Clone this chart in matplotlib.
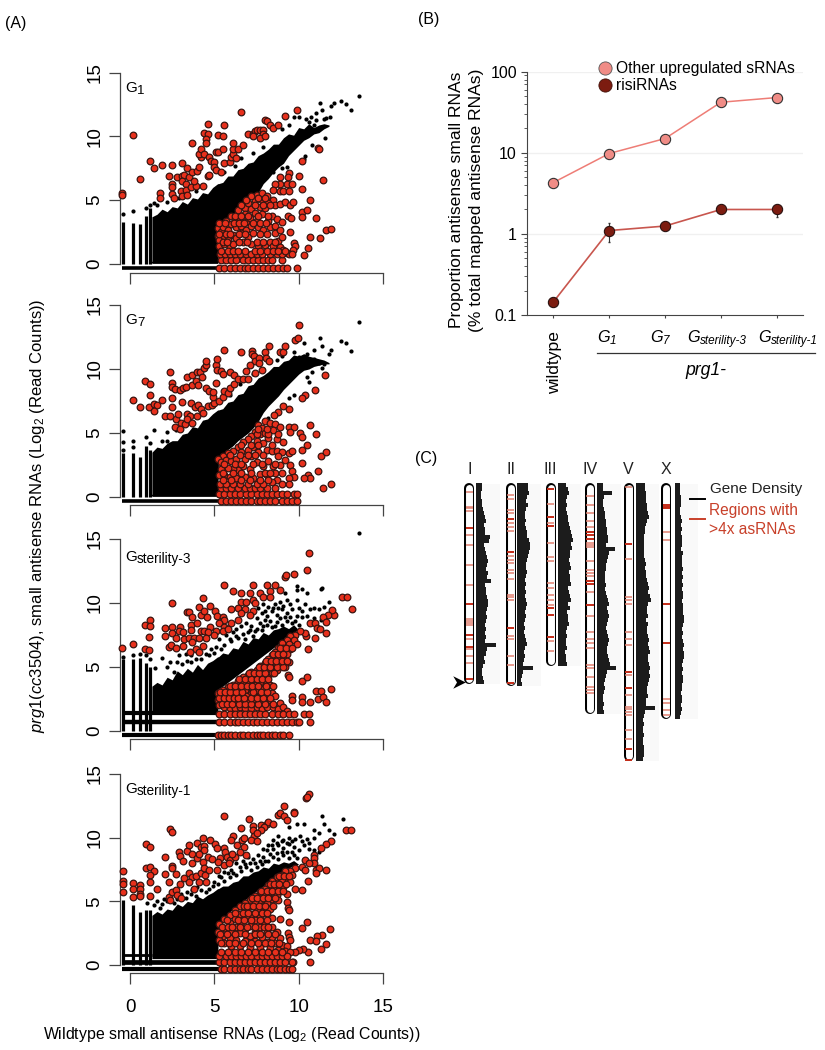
import matplotlib
matplotlib.use("Agg")
import matplotlib.pyplot as plt
from matplotlib.patches import Rectangle

plt.rcParams['font.family'] = ['Liberation Sans', 'DejaVu Sans']
plt.rcParams['mathtext.fontset'] = 'custom'
plt.rcParams['mathtext.rm'] = 'Liberation Sans'
plt.rcParams['mathtext.it'] = 'Liberation Sans:italic'

W, H = 825, 1050

# ---------- panel A: data ----------
panel_names = ["G1", "G7", "Gs3", "Gs1"]
x_ticks = [0, 5, 10, 15]
y_ticks = [0, 5, 10, 15]

# discrete low-count columns (wildtype value, top of dense stack)
g1_col_x = [-0.43, 0.2, 0.6, 0.93, 1.2]
g1_col_top = [3.3, 3.2, 3.1, 3.8, 4.4]
g7_col_x = [-0.43, 0.2, 0.6, 0.93, 1.2]
g7_col_top = [3.4, 3.4, 3.1, 4.0, 3.7]
gs3_col_x = [-0.43, 0.2, 0.6, 0.93, 1.2]
gs3_col_top = [5.6, 5.6, 5.7, 5.3, 5.0]
gs1_col_x = [-0.43, 0.2, 0.6, 0.93, 1.2]
gs1_col_top = [5.1, 4.7, 4.2, 4.3, 4.3]

# envelope of the solid part of each black cloud
cloud_x = [1.3, 1.6, 1.9, 2.2, 2.5, 2.8, 3.1, 3.4, 3.7, 4.0, 4.3, 4.6, 4.9, 5.2, 5.25, 5.5, 5.8, 6.1, 6.4, 6.7, 7.0, 7.3, 7.6, 7.9, 8.2, 8.5, 8.8, 9.1, 9.4, 9.7, 10.0, 10.3, 10.6, 10.9, 11.2, 11.5, 11.8]
g1_cloud_hi = [3.7, 3.9, 4.3, 4.1, 4.5, 4.4, 4.9, 4.7, 5.2, 5.1, 5.6, 5.5, 6.0, 6.3, 6.3, 6.4, 6.9, 6.9, 7.4, 7.5, 7.9, 8.0, 8.5, 8.7, 9.0, 9.4, 9.4, 9.9, 10.2, 10.1, 10.7, 10.6, 11.0, 10.7, 10.9, 11.0, 10.9]
g1_cloud_lo = [0.05, 0.05, 0.05, 0.05, 0.05, 0.05, 0.05, 0.05, 0.05, 0.05, 0.05, 0.05, 0.05, 0.05, 3.0, 3.2, 3.7, 3.9, 4.3, 4.6, 4.9, 5.3, 5.6, 6.3, 6.7, 7.2, 7.6, 7.9, 8.5, 8.9, 9.3, 9.7, 9.9, 10.2, 10.3, 10.6, 10.8]
g7_cloud_hi = [3.5, 3.9, 3.8, 4.2, 4.4, 4.4, 4.9, 5.0, 5.5, 5.4, 6.0, 6.1, 6.5, 6.8, 6.8, 6.9, 7.4, 7.5, 8.0, 8.1, 8.7, 8.8, 9.3, 9.5, 9.8, 10.2, 10.2, 10.6, 10.7, 11.1, 11.0, 11.2, 11.0, 10.9, 10.8, 10.7, 10.5]
g7_cloud_lo = [0.05, 0.05, 0.05, 0.05, 0.05, 0.05, 0.05, 0.05, 0.05, 0.05, 0.05, 0.05, 0.05, 0.05, 3.0, 3.3, 3.7, 4.0, 4.4, 4.7, 5.0, 5.4, 5.9, 6.6, 7.1, 7.5, 7.9, 8.4, 8.8, 9.2, 9.6, 9.9, 10.0, 10.2, 10.3, 10.4, 10.4]
gs3_cloud_hi = [3.5, 3.8, 3.6, 4.2, 4.0, 4.7, 4.4, 4.9, 4.6, 5.2, 4.8, 5.3, 5.5, 5.8, 5.8, 6.1, 6.0, 6.5, 6.4, 7.0, 6.8, 7.3, 7.2, 7.7, 7.5, 7.9, 8.0, 8.2, 8.0, 8.3, 7.9, 7.8, 7.7, 7.6, 7.5, 7.4, 7.3]
gs3_cloud_lo = [1.55, 1.55, 1.55, 1.55, 1.55, 1.55, 1.55, 1.55, 1.55, 1.55, 1.55, 1.55, 1.55, 1.55, 3.3, 3.5, 3.8, 4.1, 4.4, 4.7, 5.0, 5.3, 5.6, 5.9, 6.2, 6.5, 6.8, 7.1, 7.4, 7.7, 7.9, 7.8, 7.7, 7.6, 7.5, 7.4, 7.3]
gs1_cloud_hi = [3.9, 4.2, 4.0, 4.4, 4.3, 4.8, 4.6, 5.0, 4.9, 5.4, 5.2, 5.5, 5.7, 6.0, 6.0, 6.2, 6.2, 6.5, 6.6, 7.0, 7.0, 7.3, 7.4, 7.7, 7.6, 8.0, 7.9, 8.1, 8.0, 8.2, 7.9, 7.8, 7.7, 7.6, 7.5, 7.4, 7.3]
gs1_cloud_lo = [0.5, 0.5, 0.5, 0.5, 0.5, 0.5, 0.5, 0.5, 0.5, 0.5, 0.5, 0.5, 0.5, 0.5, 3.2, 3.6, 4.0, 4.4, 4.7, 5.0, 5.3, 5.6, 5.9, 6.2, 6.5, 6.8, 7.1, 7.4, 7.6, 7.8, 7.9, 7.8, 7.7, 7.6, 7.5, 7.4, 7.3]

# horizontal runs of tied counts: (y, x start, x end, thickness)
g1_black_rows = [(-0.35, -0.5, 5.4, 2.6), (0.15, 1.2, 5.2, 1.0)]
g7_black_rows = [(-0.35, -0.5, 5.4, 2.6), (0.15, 1.2, 5.2, 1.0)]
gs3_black_rows = [(-0.3, -0.5, 5.4, 3.0), (0.7, -0.5, 5.4, 3.2), (1.4, -0.5, 5.4, 3.0)]
gs1_black_rows = [(-0.35, -0.5, 5.4, 3.0), (0.2, -0.5, 5.4, 3.4), (0.75, -0.5, 1.3, 2.0)]

g1_black = [(-0.43, 3.9), (0.2, 4.15), (0.93, 4.4), (1.2, 4.65), (1.4, 4.8), (1.6, 4.6), (2.2, 4.9), (2.9, 5.2), (3.9, 5.7),
            (13.6, 13.2), (13.1, 12.05), (12.8, 12.55), (12.5, 12.75), (12.1, 12.6), (11.9, 12.4), (11.25, 12.6), (11.4, 12.05),
            (11.05, 11.85), (10.75, 11.55), (10.45, 11.4), (10.0, 11.5), (9.7, 11.5), (11.65, 11.45), (11.85, 11.55), (11.55, 9.9),
            (11.0, 11.3), (10.9, 10.9), (11.5, 11.4), (10.6, 11.1), (9.4, 10.9), (9.0, 10.6), (7.9, 9.2), (7.3, 8.7), (6.6, 8.3),
            (6.2, 7.7), (5.6, 7.2), (8.5, 7.2), (9.0, 7.5), (9.3, 7.6), (10.4, 8.5), (10.3, 8.2), (10.8, 9.3)]
g7_black = [(-0.43, 5.15), (-0.43, 4.3), (-0.43, 3.7), (0.2, 4.4), (0.2, 3.9), (0.93, 4.7), (1.4, 5.2), (1.2, 4.2), (1.9, 4.4), (2.2, 5.1), (2.7, 5.2), (2.2, 4.4),
            (13.6, 13.7), (13.1, 11.4), (12.8, 12.0), (12.5, 12.2), (11.25, 12.4), (11.4, 11.8), (11.9, 11.5), (11.8, 11.2), (10.5, 11.2), (10.9, 11.5),
            (10.3, 12.0), (10.0, 10.9), (10.9, 10.8), (11.2, 10.5), (11.5, 10.4), (11.4, 10.1), (10.8, 9.8), (10.5, 9.4), (10.6, 9.0), (9.0, 11.0), (9.7, 11.3),
            (8.7, 10.7), (7.9, 10.0), (7.3, 9.6), (6.5, 8.8), (5.9, 8.0), (9.0, 7.1), (9.4, 7.7), (9.7, 8.0), (7.6, 5.8), (8.2, 6.2)]
gs3_black = [(13.6, 15.5), (-0.43, 5.8), (0.2, 5.9), (0.6, 6.0), (0.93, 5.9), (1.2, 5.6), (1.5, 4.9), (1.9, 5.7), (2.4, 5.4), (2.6, 4.6), (2.9, 5.9), (3.1, 5.2), (3.4, 5.5),
             (3.6, 5.9), (3.9, 5.6), (4.2, 5.6), (4.5, 6.0), (4.8, 6.4), (5.1, 6.6), (5.3, 7.2), (5.6, 6.7), (5.9, 7.2), (6.1, 7.7), (6.4, 7.3), (6.7, 7.6), (7.0, 7.7),
             (7.3, 7.4), (6.3, 8.0), (6.6, 8.2), (6.9, 8.4), (7.2, 8.2), (7.5, 8.0), (7.8, 7.9), (8.1, 8.3), (8.4, 8.1), (8.7, 8.5), (9.0, 8.3), (9.3, 8.6), (9.6, 8.4),
             (7.5, 8.8), (7.8, 9.2), (8.1, 9.0), (8.4, 9.4), (8.7, 9.1), (9.0, 9.5), (9.3, 9.2), (9.6, 9.5), (9.9, 9.0), (10.2, 8.9), (10.5, 9.0), (7.6, 9.6), (7.9, 9.9),
             (8.2, 9.7), (8.6, 9.9), (8.9, 10.1), (9.3, 10.2), (9.9, 10.2), (10.4, 9.9), (10.9, 9.6), (11.2, 9.5), (11.5, 9.7), (11.8, 10.1), (9.2, 10.8), (9.9, 11.0),
             (9.9, 11.3), (10.2, 11.1), (10.5, 10.8), (11.3, 11.1), (11.4, 11.2), (10.0, 9.6), (10.9, 8.8), (11.3, 8.7),
             (5.7, 7.5), (6.0, 7.0), (6.3, 7.4), (6.8, 7.2), (7.1, 7.9), (7.4, 7.8), (7.7, 8.4), (8.0, 8.7), (8.3, 8.6), (8.6, 8.2), (8.9, 8.8), (9.2, 8.9), (9.5, 8.9), (9.8, 8.6), (10.0, 8.3),
             (8.0, 9.4), (8.5, 9.6), (9.1, 9.8), (9.5, 9.9), (10.2, 9.4), (10.7, 9.5), (3.3, 6.0), (3.6, 5.4), (2.2, 5.0), (2.8, 5.4), (4.7, 5.9), (5.0, 6.1), (5.4, 6.4), (7.9, 8.2), (8.8, 9.6)]
gs1_black = [(1.0, 4.9), (1.4, 4.7), (1.6, 5.0), (1.8, 4.5), (2.0, 5.2), (2.6, 4.9), (2.8, 5.2), (3.3, 5.3), (3.6, 5.6), (3.9, 5.4), (4.2, 5.9), (4.5, 5.7), (4.9, 6.2),
             (5.2, 6.4), (5.6, 6.6), (5.9, 6.9), (5.3, 7.0), (5.6, 7.3), (6.0, 7.5), (6.3, 7.1), (6.6, 7.4), (6.9, 7.7), (7.2, 7.5), (7.5, 7.7), (7.8, 7.9), (6.3, 8.0),
             (6.7, 8.2), (7.0, 8.5), (7.3, 8.3), (7.6, 8.6), (7.9, 8.5), (8.2, 8.2), (8.5, 8.5), (8.8, 8.3), (9.1, 8.6), (9.4, 8.4), (9.7, 8.6), (7.9, 9.1), (8.2, 9.4),
             (8.5, 9.1), (8.8, 9.4), (9.1, 9.2), (9.4, 9.5), (9.7, 9.3), (10.0, 9.0), (10.3, 9.4), (8.5, 9.8), (8.8, 10.1), (9.1, 9.8), (9.4, 10.0), (9.8, 9.9), (10.1, 10.1),
             (10.5, 9.9), (10.9, 10.0), (9.4, 10.8), (9.9, 11.1), (10.3, 11.1), (10.9, 10.6), (11.2, 10.4), (11.4, 11.7), (11.5, 11.1), (11.8, 10.6), (12.1, 10.3), (12.6, 11.5),
             (10.6, 9.1), (10.9, 9.0), (11.2, 8.9),
             (5.0, 6.5), (5.4, 6.9), (5.8, 7.2), (6.1, 7.2), (6.5, 7.7), (6.8, 7.9), (7.1, 8.0), (7.4, 8.0), (7.7, 8.2), (8.0, 8.2), (8.3, 8.7), (8.7, 8.8), (9.0, 8.9), (9.3, 8.9), (9.6, 8.9), (9.9, 8.4),
             (8.1, 9.0), (8.4, 9.4), (8.7, 9.6), (9.0, 9.7), (9.3, 9.6), (9.6, 9.7), (10.2, 9.7), (10.6, 9.6), (3.0, 5.6), (3.4, 5.7), (3.7, 5.9), (4.0, 6.1), (4.7, 6.0), (2.2, 5.0), (1.9, 4.8)]

g1_red = [(-0.45, 5.6), (-0.45, 5.4), (0.2, 10.1), (0.6, 6.7), (1.2, 8.1), (1.4, 7.5), (1.9, 7.8), (2.5, 7.8), (3.1, 7.9), (3.4, 7.5), (2.3, 6.9), (2.5, 6.3), (2.5, 6.0), (1.8, 5.6), (1.8, 5.2),
          (2.5, 5.5), (2.6, 5.2), (2.8, 6.8), (3.1, 6.9), (3.2, 7.0), (3.1, 6.5), (3.3, 6.3), (3.5, 6.8), (3.0, 5.7), (3.3, 5.8), (3.1, 5.3), (3.4, 5.4), (3.6, 6.0), (3.9, 6.1), (3.8, 6.5), (4.3, 6.1),
          (3.7, 7.2), (4.0, 7.3), (4.1, 7.6), (4.6, 6.9), (4.7, 7.0), (3.7, 9.5), (4.2, 8.4), (4.1, 8.6), (4.2, 9.0), (4.4, 8.6), (4.7, 8.4), (4.8, 8.1), (5.0, 8.0), (5.0, 7.6), (5.1, 7.4), (5.4, 7.2),
          (4.4, 10.3), (4.6, 10.2), (4.5, 9.8), (4.5, 9.5), (4.6, 11.0), (5.2, 10.1), (5.5, 10.0), (5.6, 10.9), (5.1, 8.8), (5.2, 8.8), (5.5, 9.0), (5.6, 7.9), (5.9, 8.0), (6.0, 8.4), (6.1, 8.6), (6.3, 8.3),
          (6.1, 9.0), (6.4, 9.0), (6.7, 9.3), (6.1, 9.5), (6.6, 11.9), (7.0, 10.2), (7.3, 10.2), (7.4, 10.4), (7.5, 10.5), (7.3, 10.0), (7.7, 10.5), (7.9, 10.5), (7.9, 10.2), (7.7, 9.9), (8.0, 10.0),
          (8.0, 11.3), (8.1, 11.2), (8.3, 10.9), (8.5, 10.7), (8.8, 10.9), (9.2, 11.6), (9.9, 12.1), (11.15, 9.1), (11.2, 9.0), (10.2, 8.1), (11.45, 6.6),
          (10.0, 6.9), (10.2, 5.85), (10.7, 5.05), (10.2, 4.05), (10.5, 4.2), (10.2, 3.7), (11.0, 3.6), (11.65, 2.7), (11.9, 2.75), (10.7, 2.1), (11.25, 2.0), (10.55, 1.25), (10.3, 0.7), (9.9, -0.3),
          (9.45, 7.1), (9.35, 6.85), (8.9, 6.85), (9.3, 6.25), (9.6, 6.25), (8.9, 6.3), (8.6, 6.3), (8.5, 5.8), (8.9, 5.75), (9.1, 5.75), (9.4, 5.7), (8.5, 5.05), (8.6, 4.6), (8.9, 4.7), (9.2, 4.85), (9.5, 4.65),
          (9.65, 4.9), (9.35, 3.75), (9.55, 3.6), (9.5, 2.5), (9.7, 1.65), (9.8, 1.4), (9.65, 1.1),
          (5.2, 2.8), (5.2, 2.2), (5.3, 1.9), (5.3, 1.4), (5.4, 2.5), (5.5, 3.1), (5.5, 2.9), (5.6, 2.2), (5.6, 1.6), (5.7, 3.4), (5.8, 2.7), (5.8, 1.9), (5.9, 1.3), (6.0, 3.8), (6.0, 3.1), (6.1, 2.3), (6.1, 1.6),
          (6.2, 3.5), (6.3, 2.9), (6.3, 2.0), (6.4, 4.2), (6.5, 3.6), (6.6, 3.0), (6.6, 2.4), (6.7, 1.7), (6.8, 4.4), (6.8, 3.9), (6.9, 3.3), (6.9, 2.7), (7.0, 4.8), (7.0, 2.1), (7.1, 3.6), (7.2, 4.3), (7.2, 3.0),
          (7.2, 1.6), (7.3, 2.4), (7.4, 5.0), (7.4, 4.0), (7.5, 3.4), (7.5, 5.4), (7.6, 2.9), (7.6, 1.3), (7.7, 4.5), (7.8, 5.6), (7.8, 5.0), (7.8, 3.9), (7.9, 2.7), (8.0, 4.4), (8.0, 1.5), (8.1, 5.3), (8.2, 3.4),
          (8.2, 4.8), (8.3, 2.9), (8.3, 1.7), (8.4, 3.8), (8.5, 1.4), (8.6, 3.0), (8.6, 2.4), (8.7, 3.5), (8.8, 1.8), (8.9, 2.7), (8.9, 1.3), (9.0, 3.3), (9.0, 2.1), (9.1, 1.1), (9.3, 0.9), (7.2, 5.3), (6.9, 5.0)]
g1_red_rows = [(-0.35, [5.3, 5.6, 5.9, 6.2, 6.5, 6.8, 7.0, 7.3, 7.6, 7.9, 8.2, 8.5, 8.8, 9.1, 9.3]),
               (0.3, [5.4, 5.7, 6.0, 6.3, 6.7, 7.0, 7.3, 7.6, 7.9, 8.2, 8.4, 9.0]),
               (0.75, [5.35, 5.65, 5.95, 6.25, 6.55, 6.9, 7.2, 7.5, 7.85, 8.3, 8.7, 9.0, 9.4, 9.6]),
               (1.05, [5.4, 5.8, 6.1, 6.4, 6.8, 7.4, 7.7, 8.1, 8.5, 8.8, 9.2]),
               (1.7, [5.5, 5.75, 6.45, 6.95, 7.5, 7.9, 8.6]),
               (2.35, [5.3, 5.7, 5.95, 6.45, 6.8, 7.7, 8.1]),
               (3.2, [5.3, 5.65, 6.15, 6.45, 6.75, 7.3, 7.7, 8.05]),
               (3.8, [6.2, 6.6, 7.0, 7.6, 8.2]),
               (4.6, [6.6, 7.4, 7.9, 8.3]),
               (5.2, [7.6, 8.0])]

g7_red = [(0.2, 7.6), (0.6, 7.0), (0.9, 9.1), (1.2, 8.8), (1.2, 8.0), (1.15, 7.0), (1.4, 7.3), (1.6, 7.2), (1.4, 6.7), (1.9, 7.6), (2.4, 9.8), (2.5, 8.9), (2.5, 8.6), (2.65, 8.4), (2.5, 7.7), (2.5, 7.05),
          (3.1, 7.4), (2.05, 6.3), (2.4, 6.3), (2.7, 6.1), (2.85, 6.5), (2.65, 5.5), (3.05, 5.75), (3.25, 5.7), (2.95, 5.35), (3.35, 6.5), (3.55, 6.3), (3.4, 6.1), (3.95, 6.3), (3.7, 5.8), (3.6, 7.35), (3.85, 7.05),
          (4.05, 7.2), (4.2, 6.9), (4.35, 6.6), (4.65, 7.1), (4.85, 7.2), (5.0, 7.35), (4.95, 7.8), (5.3, 7.5), (5.5, 7.8), (4.5, 8.5), (4.7, 8.3), (4.9, 8.2), (5.1, 8.9), (5.55, 8.3), (5.8, 8.1), (5.9, 8.5), (6.15, 8.8),
          (5.95, 9.75), (6.15, 9.5), (6.4, 9.2), (6.7, 9.2), (7.0, 9.2), (3.35, 9.4), (3.65, 9.5), (4.0, 9.8), (4.15, 9.8), (4.25, 9.35), (4.4, 10.05), (4.5, 10.3), (4.5, 10.6), (2.95, 8.35), (3.15, 8.5), (3.3, 8.6),
          (3.65, 8.75), (3.9, 9.1), (4.05, 8.75), (5.1, 10.3), (5.15, 10.8), (5.15, 9.9), (5.4, 9.85), (5.5, 9.6), (5.6, 11.5), (6.6, 11.35), (7.25, 11.4), (7.25, 11.2), (7.35, 11.0), (7.4, 10.6), (7.65, 10.85), (7.65, 10.5),
          (7.1, 10.3), (6.9, 9.85), (7.4, 9.7), (7.85, 9.9), (8.0, 11.35), (8.05, 10.85), (8.25, 10.6), (8.25, 11.8), (8.9, 11.35), (9.1, 11.35), (9.2, 11.8), (9.8, 12.3), (9.95, 12.4), (10.0, 13.45), (11.55, 9.5),
          (10.95, 8.35), (10.4, 7.95), (10.2, 7.7), (9.4, 6.9), (9.1, 7.1), (8.8, 6.65), (8.55, 6.4), (10.7, 5.65), (11.0, 4.9), (10.05, 5.0), (10.2, 4.65), (10.5, 4.05), (10.2, 3.7), (11.3, 3.2), (11.65, 3.55), (10.2, 2.65),
          (11.15, 2.0), (10.55, 1.7), (10.7, 1.45), (10.3, 1.5), (11.9, 1.0), (11.45, 0.7),
          (8.0, 5.9), (8.3, 5.8), (8.6, 5.7), (8.9, 5.5), (9.4, 5.5), (9.7, 5.5), (9.5, 5.1), (8.5, 5.2), (8.7, 4.5), (9.1, 4.3), (7.6, 5.6), (7.8, 5.4), (7.4, 5.1), (7.7, 4.9), (8.0, 5.0), (8.2, 4.6), (7.2, 4.8), (7.5, 4.4),
          (7.9, 4.2), (7.0, 4.5), (6.7, 4.3), (7.3, 3.9), (7.0, 3.7), (6.4, 3.9), (6.6, 3.5), (6.1, 3.6), (5.8, 3.4), (5.5, 3.2), (5.2, 3.0), (5.4, 2.7), (5.7, 2.9), (6.0, 2.8), (6.3, 3.0), (6.8, 3.0), (7.2, 3.2), (7.6, 3.5),
          (8.1, 3.7), (8.4, 3.6), (8.7, 3.6), (9.0, 3.5), (9.4, 3.4), (9.6, 3.6), (8.8, 3.2), (9.2, 2.9), (9.5, 2.5), (8.9, 2.5), (8.5, 2.4), (8.2, 2.8), (7.9, 2.4), (7.5, 2.7), (7.1, 2.2), (6.7, 2.4), (6.4, 2.1), (6.1, 2.2),
          (5.8, 2.3), (5.4, 2.2), (5.3, 1.7), (5.6, 1.7), (5.9, 1.6), (6.3, 1.5), (6.8, 1.6), (7.3, 1.5), (7.7, 1.8), (8.1, 1.7), (8.6, 1.9), (9.0, 1.9), (9.6, 2.0), (9.7, 1.6), (9.4, 1.5), (8.7, 1.3), (8.4, 1.2), (9.0, 1.0), (9.4, 1.0)]
g7_red_rows = [(-0.35, [5.4, 5.7, 6.0, 6.3, 6.6, 6.9, 7.2, 7.5, 7.7, 8.0, 8.3, 8.6, 9.0, 9.3, 9.6, 9.9]),
               (0.25, [5.3, 5.6, 5.9, 6.2, 6.5, 6.9, 7.2, 7.5, 7.8, 8.1, 8.4, 8.7, 9.0, 9.3, 9.7, 9.9]),
               (0.7, [5.4, 5.7, 6.0, 6.4, 6.8, 7.1, 7.4, 7.7, 8.1, 8.6]),
               (1.05, [5.35, 5.7, 6.1, 6.5, 7.0, 7.5, 7.9]),
               (1.3, [5.5, 6.0, 6.6, 7.1, 7.7, 8.2]),
               (1.9, [5.5, 6.1, 6.6, 7.2, 8.0, 8.3]),
               (2.6, [5.6, 6.2, 6.6, 7.3, 7.8, 8.6]),
               (3.3, [5.9, 6.5, 7.0, 7.4, 7.9]),
               (4.1, [6.6, 7.2, 7.6, 8.4]),
               (4.9, [7.5, 8.2, 8.8]),
               (5.3, [7.6, 8.1])]

gs3_red = [(-0.45, 6.45), (0.15, 6.8), (0.9, 6.4), (1.15, 6.3), (0.9, 8.25), (1.2, 8.65), (1.2, 8.2), (1.15, 7.35), (2.05, 8.05), (2.05, 7.4), (2.5, 10), (2.5, 8.15), (2.5, 7.65), (2.7, 7.25), (2.3, 6.6), (2.45, 6.7), (2.7, 6.45),
           (2.95, 8.1), (2.9, 7.85), (3.15, 7.7), (3.35, 9.3), (3.5, 9.3), (3.7, 8.9), (3.6, 8.3), (3.6, 7.9), (4.0, 8.4), (4.1, 9.65), (4.2, 9.1), (4.4, 9.4), (4.55, 8.9), (4.3, 10.4), (4.75, 9.8), (5.05, 9.4), (5.15, 8.95),
           (4.2, 7.85), (4.4, 7.85), (4.75, 8.1), (4.6, 7.7), (5.1, 7.85), (3.2, 7.2), (3.5, 7.3), (3.8, 7.25), (4.1, 7.25), (4.5, 7.25), (3.15, 6.65), (3.7, 6.95), (4.3, 6.65), (3.55, 6.2), (3.9, 6.4), (4.1, 6.2), (5, 7.5),
           (5.5, 8.9), (5.6, 8.7), (5.3, 8.4), (6.0, 8.4), (5.6, 8.15), (5.5, 7.8), (5.8, 8.0), (5.6, 11.4), (6.1, 10.9), (6.6, 10.75), (7.1, 10.75), (7.3, 11.4), (6.6, 10.05), (6.9, 10.1), (7.3, 10.25), (7.4, 10), (6.0, 9.55),
           (6.4, 9.6), (6.8, 9.5), (7.3, 9.35), (6.6, 9.2), (7.1, 9.1), (6.4, 8.7), (7.7, 10.75), (7.9, 10.45), (8.1, 11.4), (8.3, 10.9), (8.3, 10.5), (8.6, 11.4), (8.9, 11.0), (9.2, 12.05), (9.25, 12.2), (9.75, 12.3), (10.5, 12.55),
           (10.6, 13.9), (12.55, 10.45), (12.85, 10.5), (13.15, 9.55), (12.1, 9.1), (11.95, 9.45), (11.75, 9.1), (11.45, 8.9), (11.6, 8.5), (10.65, 8.4), (10.95, 8.4), (11.1, 8.05), (11.25, 8.0), (10.95, 7.25), (11.65, 7.65),
           (10.45, 7.4), (10.35, 7.65), (10.55, 6.4), (10.05, 7.85),
           (9.35, 4.4), (9.45, 4.2), (10.2, 3.9), (10.5, 4.2), (11, 3.15), (11.3, 3.15), (11.9, 3.3), (11.15, 2.5), (11.45, 2.65), (11.65, 2.3), (10.7, 2.3), (10.2, 2.65), (10.2, 2.3), (9.6, 2.75), (9.6, 2.4), (10.7, 0.7), (10.3, 1.3), (10.6, 1.3),
           (9.8, 7.5), (9.5, 7.4), (9.7, 7.1), (9.3, 7.1), (9.4, 6.8), (9.9, 6.8), (9.0, 6.9), (9.1, 6.5), (9.5, 6.4), (8.8, 6.5), (8.6, 6.2), (8.9, 6.1), (9.3, 6.0), (8.4, 5.9), (8.7, 5.7), (9.1, 5.6), (9.4, 5.4), (8.2, 5.6),
           (8.5, 5.3), (8.9, 5.2), (9.2, 5.0), (8.0, 5.3), (8.3, 5.0), (8.7, 4.8), (7.7, 5.1), (8.0, 4.8), (8.4, 4.5), (7.5, 4.8), (7.8, 4.5), (8.1, 4.2), (7.2, 4.6), (7.6, 4.3), (7.9, 3.9), (8.3, 3.6), (7.0, 4.4), (7.3, 4.1),
           (7.7, 3.8), (6.7, 4.2), (7.0, 3.9), (7.4, 3.6), (7.9, 3.3), (6.4, 3.9), (6.7, 3.7), (7.1, 3.4), (7.5, 3.1), (8.4, 3.0), (6.1, 3.6), (6.4, 3.4), (6.8, 3.2), (7.2, 2.9), (7.7, 2.8), (8.1, 2.7), (5.8, 3.4), (6.1, 3.1),
           (6.5, 2.9), (6.9, 2.7), (5.5, 3.2), (5.8, 2.9), (6.2, 2.7), (6.6, 2.5), (7.0, 2.3), (7.4, 2.5), (7.8, 2.2), (8.3, 2.4), (8.6, 2.7), (5.2, 3.0), (5.4, 2.7), (5.6, 2.4), (5.9, 2.3), (6.3, 2.2), (8.9, 2.2),
           (5.2, 2.4), (5.3, 2.0), (5.6, 1.9), (5.9, 1.8), (6.2, 1.8), (6.5, 1.9), (6.8, 1.8), (7.2, 1.8), (7.5, 1.9), (7.8, 1.7), (8.1, 1.9), (8.5, 1.9), (8.8, 1.7), (9.1, 1.9), (9.3, 1.6)]
gs3_red_rows = [(-0.3, [5.2, 5.4, 5.6, 5.8, 6.0, 6.2, 6.5, 6.7, 7.0, 7.3, 7.5, 7.7, 7.9, 8.2, 8.4, 8.6, 8.9, 9.1, 9.4]),
                (0.7, [5.3, 5.6, 5.9, 6.2, 6.4, 6.7, 7.0, 7.3, 7.5, 7.8, 8.1, 8.4, 8.7, 9.0, 9.3, 9.6, 9.9, 10.0]),
                (1.3, [5.3, 5.6, 5.9, 6.2, 6.5, 6.8, 7.1, 7.4, 7.7, 8.0, 8.4, 8.8, 9.1, 9.4, 9.7]),
                (2.1, [5.45, 5.75, 6.05, 6.45, 6.8, 7.2, 7.6, 8.0, 8.45]),
                (2.6, [5.3, 5.55, 5.85, 6.15, 6.4, 6.75, 7.15, 7.5, 7.9, 8.3]),
                (3.05, [5.35, 5.65, 5.95, 6.3, 6.65, 7.3, 7.75, 8.1]),
                (3.55, [5.9, 6.25, 6.6, 6.95, 7.25, 7.6, 8.05, 8.5]),
                (4.05, [6.45, 6.8, 7.15, 7.5, 7.85, 8.2]),
                (4.55, [7.05, 7.35, 7.65, 8.0, 8.55]),
                (5.0, [7.65, 7.95, 8.3, 8.7, 9.05]),
                (5.5, [8.05, 8.35, 8.65, 9.0, 9.3]),
                (6.0, [8.45, 8.8, 9.1]),
                (6.5, [8.9, 9.25, 9.6])]

gs1_red = [(-0.4, 7.35), (-0.4, 6.6), (-0.4, 6.35), (-0.4, 5.7), (0.2, 6.45), (0.2, 5.95), (0.2, 5.35), (0.6, 6.3), (0.6, 6.0), (0.6, 5.6), (0.6, 5.45), (0.95, 9.5), (1.2, 9.25), (0.95, 7.65), (1.2, 7.7), (1.4, 7.4), (1.2, 7.05),
           (1.2, 6.5), (1.2, 5.45), (1.6, 6.0), (2.05, 8.5), (2.05, 7.15), (2.4, 10.65), (2.5, 10.45), (2.5, 7.8), (2.5, 7.6), (2.7, 7.15), (2.3, 6.55), (2.9, 8.9), (2.95, 8.55), (3.15, 8.2), (3.35, 8.95), (3.5, 9.4), (3.7, 8.75),
           (3.7, 8.0), (4, 8.4), (4, 9.6), (4.3, 10.0), (4.2, 9.3), (4.4, 9.35), (4.75, 9.8), (5.05, 9.5), (5.15, 9.15), (4.6, 8.5), (4.85, 8.35), (4.4, 9.0), (4.1, 8.75), (4.3, 8.1),
           (2.3, 5.35), (2.5, 5.75), (2.7, 5.9), (2.8, 5.5), (3, 5.25), (2.4, 5.1), (2.95, 6.4), (3.2, 6.8), (3.5, 7.2), (3.7, 6.95), (3.9, 7), (4.2, 7.2), (4.45, 7.05), (4.4, 7.6), (4.7, 7.45), (3.5, 6.55), (3.8, 6), (4.1, 6.55), (4.5, 6.55), (5.15, 7.45),
           (5.55, 11.7), (6.1, 10.15), (6, 9.85), (6.35, 9.4), (6.65, 9.8), (6.75, 9.95), (6.6, 10.75), (7.05, 11.5), (7.3, 10.9), (7.3, 10.6), (7.75, 11), (8.1, 11.05), (8.2, 11.2), (8.5, 11.1), (7.95, 10.8), (7.75, 10.6), (7.35, 10.15),
           (7.55, 10.35), (7.15, 9.8), (7.55, 9.7), (6.75, 9.3), (6.55, 8.9), (6.85, 8.65), (5.55, 9.15), (5.65, 8.9), (5.35, 8.4), (5.75, 8.5), (5.95, 8.25), (6.25, 8.5), (6.05, 8.7), (5.55, 7.85), (5.85, 8), (5.2, 8.1),
           (9.15, 12.5), (8.8, 11.8), (8.9, 11.9), (9.15, 11.7), (9.3, 11.4), (9.7, 12), (9.75, 11.9), (10.45, 13.1), (10.6, 13.4), (10.5, 13.2), (12.8, 10.6), (13.1, 10.6), (11.9, 9.75), (11.6, 9.5), (11.3, 9.15), (10.9, 8.65), (10.9, 8.4), (10.9, 8.0),
           (10.4, 8.25), (10.6, 8), (10.2, 7.7), (10.4, 7.45), (11, 7.45), (11.2, 7.6), (11.65, 7.45), (11, 7.25), (10.55, 6.6), (10.2, 5.9),
           (9.3, 4.95), (9.35, 4.45), (9.4, 4.3), (10.5, 3.4), (10.2, 2.9), (11.85, 2.85), (11.4, 2.35), (11.1, 2.3), (10.65, 1.95), (11, 1.85), (11.65, 1.65), (11.3, 1.25), (10.55, 1.0), (10.7, 0.25), (10.25, 1.25), (10, 1.2), (9.8, 1.0), (9.65, 0.25),
           (9.4, 3.4), (9.35, 2.5), (9.4, 2.2), (9.5, 2), (8.9, 3.65),
           (9.8, 7.6), (9.5, 7.4), (9.2, 7.4), (9.6, 7.1), (9.0, 7.1), (9.3, 6.8), (8.7, 6.9), (9.0, 6.6), (9.5, 6.5), (9.8, 6.0), (8.4, 6.6), (8.7, 6.3), (9.1, 6.1), (8.2, 6.3), (8.5, 6.0), (8.9, 5.8), (9.3, 5.6), (8.0, 6.0),
           (8.3, 5.7), (8.7, 5.5), (7.7, 5.7), (8.0, 5.4), (8.4, 5.2), (8.8, 5.1), (7.4, 5.4), (7.7, 5.1), (8.1, 4.9), (7.1, 5.1), (7.4, 4.9), (7.8, 4.6), (8.3, 4.4), (6.8, 4.9), (7.1, 4.6), (7.5, 4.3), (8.0, 4.1), (6.5, 4.6),
           (6.8, 4.3), (7.2, 4.0), (7.7, 3.8), (8.4, 3.7), (6.2, 4.3), (6.5, 4.0), (6.9, 3.7), (7.4, 3.5), (8.0, 3.3), (5.9, 3.9), (6.2, 3.6), (6.6, 3.4), (7.1, 3.1), (7.7, 3.0), (8.4, 3.0), (5.6, 3.6), (5.9, 3.3), (6.3, 3.0),
           (6.8, 2.8), (7.4, 2.6), (8.1, 2.6), (8.7, 2.6), (5.3, 3.2), (5.6, 2.9), (6.0, 2.7), (6.5, 2.5), (7.1, 2.3), (7.8, 2.2), (8.4, 2.2), (8.9, 2.1), (5.2, 2.6), (5.5, 2.3), (5.9, 2.1), (6.3, 2.0), (6.8, 1.9), (7.4, 1.9), (8.1, 1.8),
           (8.6, 1.7), (9.0, 1.6), (9.3, 1.5), (5.3, 2.0), (5.6, 1.7), (6.0, 1.5), (6.5, 1.5), (7.1, 1.4), (7.7, 1.4), (8.3, 1.3), (8.8, 1.2), (9.2, 1.1), (9.5, 1.0)]
gs1_red_rows = [(-0.35, [5.4, 5.6, 5.9, 6.2, 6.5, 6.7, 7.0, 7.2, 7.5, 7.8, 8.1, 8.4, 8.7, 8.9, 9.2, 9.4, 9.6]),
                (0.25, [5.3, 5.6, 5.9, 6.2, 6.5, 6.8, 7.1, 7.4, 7.7, 8.0, 8.3, 8.6, 8.9, 9.2, 9.6]),
                (0.7, [5.3, 5.7, 6.0, 6.3, 6.6, 6.9, 7.2, 7.5, 7.8, 8.1, 8.4, 8.7, 9.0, 9.3]),
                (1.05, [5.4, 5.8, 6.2, 6.6, 7.0, 7.4, 7.8, 8.2, 8.6, 9.0]),
                (1.75, [5.4, 5.85, 6.25, 6.7, 7.2, 7.6, 8.0, 8.35, 8.85]),
                (2.4, [5.35, 5.75, 6.2, 6.8, 7.4, 7.7, 8.2, 8.6]),
                (3.0, [5.45, 5.8, 6.05, 6.5, 6.95, 7.4, 7.95, 8.2]),
                (3.55, [5.75, 6.4, 6.75, 7.2, 7.7, 8.15]),
                (4.1, [6.25, 6.7, 7.0, 7.4, 7.8, 8.15]),
                (4.65, [6.75, 6.95, 7.3, 7.65, 8.0, 8.5]),
                (5.25, [7.25, 7.55, 7.9, 8.2, 8.6]),
                (5.8, [7.75, 8.1, 8.4, 8.75, 9.05]),
                (6.4, [8.3, 8.55, 8.85, 9.25]),
                (7.0, [8.85, 9.15, 9.45])]

# ---------- panel B ----------
b_labels = ["wildtype", "G1", "G7", "Gsterility-3", "Gsterility-1"]
b_other = [4.3, 9.8, 15, 42, 48]
b_risi = [0.145, 1.1, 1.25, 2.0, 2.0]
b_risi_err_lo = [0.005, 0.3, 0.06, 0.1, 0.4]
b_risi_err_hi = [0.005, 0.25, 0.06, 0.1, 0.3]

# ---------- panel C: positions in Mb, gene density in bar length ----------
chr_names = ["I", "II", "III", "IV", "V", "X"]
chr_len = [15.07, 15.22, 13.72, 17.37, 20.9, 17.7]
band_I = [0.7, 1.8, 1.9, 2.1, 3.9, 4.7, 6.2, 7.7, 10.2, 10.4, 10.5, 10.7, 11.7, 12.5, 13.0, 13.5]
band_II = [0.9, 1.25, 2.05, 2.3, 3.05, 3.3, 3.6, 5.5, 5.8, 6.05, 6.55, 6.8, 7.2, 8.4, 8.6, 8.8, 11.5, 11.7, 13, 13.7]
band_III = [1.6, 3.05, 4.55, 5.55, 5.9, 7.5, 7.9, 8.4, 8.8, 9.2, 11.9, 12.6]
band_IV = [1, 1.7, 2.3, 2.9, 3.3, 4.55, 4.7, 4.8, 5.9, 6.55, 6.8, 7, 8.2, 10, 11.2, 11.7, 12, 12.4, 13.7, 13.9, 14.6, 15.3, 15.55, 15.8]
band_V = [0.3, 5.7, 8.6, 8.8, 9.1, 11.2, 11.7, 12.2, 14.4, 15.9, 16.8, 17, 17.2, 17.4, 18.55, 19.2]
band_X = [3.7, 4.3, 16.2, 16.55, 17.05, 17.4]
strong_I = [3.4, 9.1, 11.4, 12.3, 14.7]
strong_II = [2.7, 5.2, 10.9, 15.05]
strong_III = [0.5, 2.55, 3.25, 9.4, 9.9, 11.55]
strong_IV = [3.7, 3.9, 4.2, 7.4, 7.6, 9.2]
strong_V = [4.6, 14.2, 15.4, 20, 20.8]
strong_X = [1.7, 1.8, 1.9, 9.1, 12]
dens_I = [6, 6, 5, 5, 6, 6, 7, 8, 9, 10, 8, 9, 9, 14, 13, 8, 9, 10, 11, 12, 11, 10, 12, 11, 15, 9, 10, 10, 11, 12, 12, 11, 10, 11, 10, 9, 10, 9, 10, 9, 20, 11, 10, 8, 9, 7, 6, 6, 7, 8]
dens_II = [11, 11, 12, 10, 9, 11, 9, 8, 8, 9, 8, 9, 10, 10, 12, 13, 13, 12, 11, 10, 9, 9, 10, 9, 8, 9, 8, 9, 8, 9, 10, 9, 8, 9, 8, 7, 8, 7, 8, 9, 10, 8, 7, 8, 7, 6, 16, 6, 5, 4, 5]
dens_III = [8, 10, 11, 9, 8, 9, 8, 9, 10, 10, 11, 12, 13, 14, 15, 13, 14, 12, 12, 11, 12, 13, 11, 12, 12, 13, 10, 11, 12, 13, 10, 12, 9, 10, 10, 11, 9, 8, 9, 8, 8, 9, 7, 8, 8, 9]
dens_IV = [6, 6, 15, 7, 6, 6, 7, 8, 8, 9, 9, 10, 10, 11, 11, 9, 18, 12, 11, 10, 9, 9, 8, 8, 8, 9, 8, 9, 10, 11, 12, 10, 11, 12, 11, 10, 9, 10, 11, 12, 11, 10, 10, 11, 12, 13, 19, 10, 9, 8, 7, 8, 7, 6, 6, 7, 6, 7]
dens_V = [9, 9, 10, 10, 10, 11, 11, 12, 13, 11, 10, 9, 9, 8, 8, 8, 8, 8, 8, 9, 10, 9, 10, 10, 11, 12, 13, 12, 14, 15, 12, 11, 11, 12, 10, 12, 11, 11, 12, 13, 12, 13, 14, 12, 12, 13, 14, 13, 14, 13, 12, 11, 11, 12, 10, 10, 19, 9, 8, 7, 8, 7, 7, 8, 7, 7, 8, 8, 8, 7]
dens_X = [5, 5, 5, 6, 6, 6, 5, 5, 6, 7, 6, 7, 6, 7, 7, 7, 6, 8, 7, 7, 7, 8, 7, 8, 7, 8, 7, 8, 8, 7, 8, 8, 8, 9, 9, 8, 7, 8, 7, 8, 9, 8, 9, 9, 8, 7, 8, 7, 8, 8, 7, 7, 6, 7, 7, 6, 7, 6, 5]

# ---------- layout ----------
fig = plt.figure(figsize=(W / 100, H / 100), dpi=100, facecolor='white')


def px_text(x, y, s, **kw):
    return fig.text(x / W, 1 - y / H, s, **kw)


AXC = '#444444'
panel_axis_px = [272.7, 504.5, 739, 973]   # y pixel of the x axis line
panel_top_px = [72.7, 305, 539, 774]       # y pixel of y=15
panel_zero_px = [264, 497, 731, 965]       # y pixel of y=0
L_PX, XZERO_PX, X15_PX = 120, 130, 383
cols = [(g1_col_x, g1_col_top), (g7_col_x, g7_col_top), (gs3_col_x, gs3_col_top), (gs1_col_x, gs1_col_top)]
clouds = [(g1_cloud_lo, g1_cloud_hi), (g7_cloud_lo, g7_cloud_hi), (gs3_cloud_lo, gs3_cloud_hi), (gs1_cloud_lo, gs1_cloud_hi)]
rows_b = [g1_black_rows, g7_black_rows, gs3_black_rows, gs1_black_rows]
blacks = [g1_black, g7_black, gs3_black, gs1_black]
reds = [g1_red, g7_red, gs3_red, gs1_red]
rows_r = [g1_red_rows, g7_red_rows, gs3_red_rows, gs1_red_rows]

for i in range(4):
    ax = fig.add_axes([L_PX / W, 1 - panel_axis_px[i] / H, (X15_PX - L_PX) / W, (panel_axis_px[i] - panel_top_px[i]) / H])
    ppu = (X15_PX - XZERO_PX) / 15
    ax.set_xlim(-(XZERO_PX - L_PX) / ppu, 15)
    ax.set_ylim(-(panel_axis_px[i] - panel_zero_px[i]) / ((panel_zero_px[i] - panel_top_px[i]) / 15), 15)
    ax.patch.set_alpha(0)
    clo, chi = clouds[i]
    ax.fill_between(cloud_x, clo, chi, color='black', lw=0, zorder=1)
    ax.vlines(cols[i][0], 0.0, cols[i][1], color='black', lw=2.3, zorder=1)
    for (y, x0, x1, th) in rows_b[i]:
        ax.hlines(y, x0, x1, color='black', lw=th, zorder=1)
    bx = [p[0] for p in blacks[i]]
    by = [p[1] for p in blacks[i]]
    ax.scatter(bx, by, s=9, color='black', lw=0, zorder=2, clip_on=False)
    rx = [p[0] for p in reds[i]]
    ry = [p[1] for p in reds[i]]
    for y, xs in rows_r[i]:
        rx += xs
        ry += [y] * len(xs)
    ax.scatter(rx, ry, s=23, facecolor='#e8301c', edgecolor='#3a1410', linewidth=0.9, zorder=3, clip_on=False)
    for s in ['top', 'right']:
        ax.spines[s].set_visible(False)
    ax.spines['left'].set_bounds(0, 15)
    ax.spines['bottom'].set_bounds(0, 15)
    ax.spines['left'].set_color(AXC)
    ax.spines['bottom'].set_color(AXC)
    ax.spines['left'].set_linewidth(0.9)
    ax.spines['bottom'].set_linewidth(0.9)
    ax.set_xticks(x_ticks)
    ax.set_yticks(y_ticks)
    ax.tick_params(axis='x', length=8, width=0.9, color=AXC, labelsize=13.5, pad=11, labelbottom=(i == 3))
    ax.tick_params(axis='y', length=8, width=0.9, color=AXC, labelsize=13.5, pad=4)
    for t in ax.get_yticklabels():
        t.set_rotation(90)
        t.set_va('center')

px_text(125, 92, "G", fontsize=11, va='baseline')
px_text(137, 94, "1", fontsize=9.5, va='baseline')
px_text(125, 324, "G", fontsize=11, va='baseline')
px_text(137, 326, "7", fontsize=9.5, va='baseline')
px_text(125, 561, "G", fontsize=11, va='baseline')
px_text(137, 563, "sterility-3", fontsize=9.8, va='baseline')
px_text(125, 793, "G", fontsize=11, va='baseline')
px_text(137, 795, "sterility-1", fontsize=9.8, va='baseline')
px_text(5, 28, "(A)", fontsize=11.5, va='baseline')
px_text(418, 24, "(B)", fontsize=11.5, va='baseline')
px_text(415, 463, "(C)", fontsize=11.5, va='baseline')
px_text(232, 1035, r"Wildtype small antisense RNAs (Log$_2$ (Read Counts))", fontsize=11.4, ha='center', va='center')
px_text(38, 516, r"$\mathit{prg1(cc3504)}$, small antisense RNAs (Log$_2$ (Read Counts))", fontsize=12, rotation=90, ha='center', va='center')

# panel B
axb = fig.add_axes([526.7 / W, 1 - 315 / H, (803 - 526.7) / W, (315 - 71.7) / H])
axb.set_yscale('log')
axb.set_ylim(0.1, 100)
axb.set_xlim(-0.478, 4.47)
xpos = list(range(len(b_labels)))
axb.patch.set_alpha(0)
for v in [1, 10, 100]:
    axb.axhline(v, color='#f0f0f0', lw=1, zorder=0)
axb.plot(xpos, b_other, color='#ee7d76', lw=1.1, zorder=2)
axb.plot(xpos, b_risi, color='#c8564e', lw=1.2, zorder=2)
axb.errorbar(xpos, b_risi, yerr=[b_risi_err_lo, b_risi_err_hi], fmt='none', ecolor='#333333', elinewidth=0.8, capsize=1, zorder=2)
axb.plot(xpos, b_other, ls='none', marker='o', ms=7.4, mfc='#f08c86', mec='#333333', mew=0.8, zorder=3, clip_on=False)
axb.plot(xpos, b_risi, ls='none', marker='o', ms=7.4, mfc='#7c1c10', mec='#2a1210', mew=0.8, zorder=3, clip_on=False)
axb.spines['top'].set_visible(False)
axb.spines['right'].set_visible(False)
axb.spines['left'].set_color(AXC)
axb.spines['bottom'].set_color(AXC)
axb.set_xticks(xpos)
axb.set_xticklabels([])
axb.set_yticks([0.1, 1, 10, 100])
axb.set_yticklabels(['0.1', '1', '10', '100'])
axb.tick_params(axis='y', which='major', length=4, width=0.8, color=AXC, labelsize=11.5, pad=3)
axb.tick_params(axis='y', which='minor', length=2.5, width=0.6, color=AXC, labelleft=False)
axb.tick_params(axis='x', length=2.5, width=0.8, color=AXC)

# legend of panel B: same markers, placed at figure pixels
axb.plot([(605 - 526.7) / (803 - 526.7)], [(315 - 68) / (315 - 71.7)], ls='none', marker='o', ms=9.5,
         mfc='#f08c86', mec='#555555', mew=0.6, transform=axb.transAxes, clip_on=False, zorder=4)
axb.plot([(605 - 526.7) / (803 - 526.7)], [(315 - 85) / (315 - 71.7)], ls='none', marker='o', ms=9.5,
         mfc='#7c1c10', mec='#401008', mew=0.6, transform=axb.transAxes, clip_on=False, zorder=4)
px_text(616, 68, "Other upregulated sRNAs", fontsize=11.25, va='center')
px_text(616, 85, "risiRNAs", fontsize=11.25, va='center')
px_text(457, 200, "Proportion antisense small RNAs", fontsize=12.6, rotation=90, ha='center', va='center')
px_text(477, 200, "(% total mapped antisense RNAs)", fontsize=12.6, rotation=90, ha='center', va='center')
px_text(555, 362, "wildtype", fontsize=12.6, rotation=90, ha='center', va='center')
for gx, sub in [(597, "1"), (650, "7"), (687, "sterility-3"), (758, "sterility-1")]:
    px_text(gx, 342, "G", fontsize=11.7, style='italic', va='baseline')
    px_text(gx + 12.5, 344, sub, fontsize=8.5, style='italic', va='baseline')
fig.add_artist(plt.Line2D([597 / W, 815 / W], [1 - 353 / H, 1 - 353 / H], color='#333333', lw=0.9))
px_text(706, 370, "prg1-", fontsize=12.7, style='italic', ha='center', va='center')

# panel C
SCALE = 40 / 3
TOP = 482.7
axc = fig.add_axes([420 / W, 1 - 770 / H, 400 / W, 325 / H])
axc.set_xlim(420, 820)
axc.set_ylim((770 - TOP) / SCALE, (445 - TOP) / SCALE)
axc.axis('off')
chr_center = [469.3, 510.8, 550.5, 590, 628.7, 666.3]
bar_start = [476, 517.3, 557.7, 597.3, 636, 675]
bg_right = [500, 541, 581, 621, 659, 698]
bands = [band_I, band_II, band_III, band_IV, band_V, band_X]
strongs = [strong_I, strong_II, strong_III, strong_IV, strong_V, strong_X]
dens = [dens_I, dens_II, dens_III, dens_IV, dens_V, dens_X]
for k, name in enumerate(chr_names):
    c, L = chr_center[k], chr_len[k]
    axc.add_patch(Rectangle((bar_start[k], 0.1), bg_right[k] - bar_start[k], L - 0.1, fc='#f9f9f9', ec='none', zorder=0))
    step = L / len(dens[k])
    axc.barh([(j + 0.5) * step for j in range(len(dens[k]))], dens[k], height=step, left=bar_start[k], color='#1c1c1c', lw=0, zorder=1)
    cap = 5 / SCALE
    axc.plot([c, c], [cap, L - cap], color='black', lw=7.2, solid_capstyle='round', zorder=2)
    axc.plot([c, c], [cap, L - cap], color='white', lw=5.0, solid_capstyle='round', zorder=3)
    axc.hlines(bands[k], c - 3.6, c + 3.6, color='#e08070', lw=1.1, zorder=4)
    axc.hlines(strongs[k], c - 3.6, c + 3.6, color='#c42c18', lw=1.4, zorder=4)
    px_text(c, 470, name, fontsize=11.5, ha='center', va='center', color='#222222')
arrow = [(-1, 1), (1, 0), (-1, -1), (-0.4, 0)]
axc.plot([458.5], [14.97], marker=arrow, ms=9, color='black', ls='none', zorder=5, mew=0)
axc.plot([690, 705], [1.2, 1.2], color='black', lw=1.4, clip_on=False)
axc.plot([690, 705], [2.75, 2.75], color='#c8402a', lw=1.4, clip_on=False)
px_text(710, 489, "Gene Density", fontsize=11, va='center', color='#222222')
px_text(709, 510, "Regions with", fontsize=11.2, va='center', color='#c8402a')
px_text(709, 529, ">4x asRNAs", fontsize=11.2, va='center', color='#c8402a')

fig.savefig('out.png', dpi=100, facecolor='white')
